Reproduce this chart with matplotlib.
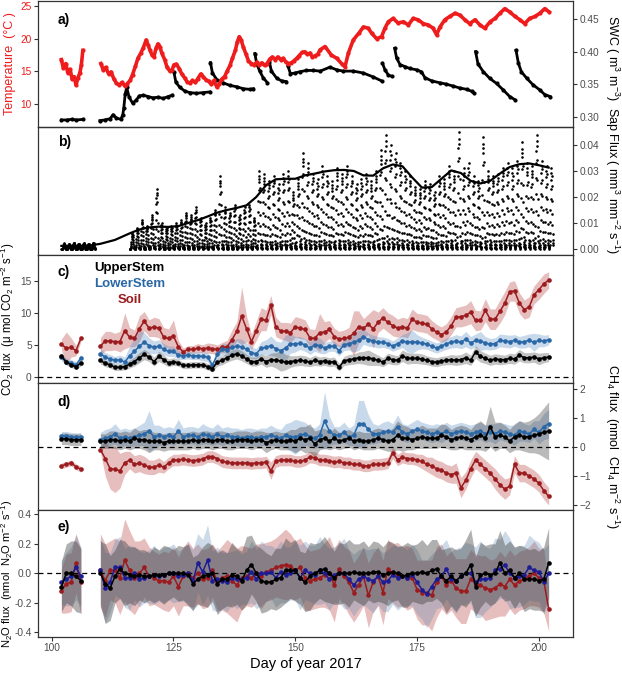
import numpy as np
import matplotlib
matplotlib.use('Agg')
import matplotlib.pyplot as plt

plt.rcParams['font.family'] = ['Liberation Sans', 'DejaVu Sans']
plt.rcParams['mathtext.default'] = 'regular'

## data: panel a (temperature, soil water content)
temp_day_1 = [102.0, 102.4, 102.9, 103.3, 103.8, 104.2, 104.6, 105.0, 105.4, 105.8, 106.1, 106.4]
temp_1 = [16.8, 15.5, 16.2, 14.8, 15.3, 13.8, 14.2, 12.9, 14.0, 14.8, 16.0, 18.2]
temp_day_2 = [110.1, 110.6, 111.1, 111.7, 112.2, 112.8, 113.3, 113.9, 114.4, 115.0,
              115.5, 116.1, 116.6, 117.2, 117.7, 118.3, 118.8, 119.4, 119.8, 120.2,
              120.6, 121.0, 121.4, 121.8, 122.2, 122.6, 123.2, 123.7, 124.3, 124.7,
              125.1, 125.6, 126.2, 126.7, 127.3, 127.8, 128.4, 128.9, 129.5, 130.0,
              130.6, 131.1, 131.7, 132.2, 132.8, 133.3, 133.9, 134.4, 134.9, 135.5,
              136.0, 136.6, 137.1, 137.7, 138.1, 138.5, 138.9, 139.3, 139.9, 140.4,
              141.0, 141.5, 142.1, 142.6, 143.1, 143.7, 144.2, 144.8, 145.3, 145.9,
              146.4, 147.0, 147.5, 148.1, 148.6, 149.2, 149.7, 150.3, 150.8, 151.4,
              151.9, 152.5, 153.0, 153.5, 154.1, 154.6, 155.1, 156.1, 157.4, 158.5,
              159.5, 160.2, 160.9, 161.9, 163.0, 164.0, 165.0, 165.7, 166.7, 167.7,
              168.4, 169.1, 170.1, 171.1, 172.2, 173.2, 174.2, 175.2, 176.3, 177.3,
              178.3, 179.0, 179.7, 180.7, 181.7, 182.8, 183.8, 184.8, 185.8, 186.9,
              187.9, 188.9, 190.0, 191.0, 192.0, 193.0, 194.0, 195.1, 196.1, 197.1,
              198.1, 199.2, 200.2, 201.2, 202.1]
temp_2 = [16.2, 15.2, 15.6, 14.6, 14.9, 13.8, 13.2, 12.9, 13.3, 12.8,
          13.1, 13.6, 14.5, 15.8, 17.0, 17.8, 18.6, 19.8, 19.0, 18.2,
          17.5, 17.2, 18.5, 19.2, 18.8, 17.8, 16.8, 15.6, 15.0, 15.2,
          16.0, 16.1, 15.4, 14.6, 14.0, 13.4, 13.2, 13.6, 13.3, 13.9,
          14.6, 14.2, 13.7, 13.5, 13.0, 13.6, 12.6, 13.0, 13.8, 14.2,
          15.0, 15.9, 17.0, 18.2, 19.5, 20.3, 19.8, 18.8, 17.6, 16.6,
          16.2, 16.0, 16.4, 15.9, 16.3, 15.9, 16.2, 16.9, 17.2, 16.8,
          17.2, 16.8, 17.0, 16.4, 16.2, 16.3, 16.6, 17.0, 17.4, 17.9,
          18.0, 17.6, 17.8, 17.2, 17.4, 17.6, 18.3, 18.8, 17.5, 17.0,
          16.2, 15.7, 17.8, 19.8, 20.8, 21.8, 21.6, 20.8, 20.0, 20.3,
          21.6, 22.6, 23.1, 22.4, 22.6, 22.1, 23.1, 22.9, 22.3, 22.1,
          21.6, 20.6, 21.8, 22.9, 23.4, 23.9, 23.6, 22.9, 22.3, 22.9,
          22.1, 21.6, 22.6, 23.1, 23.9, 24.6, 24.1, 23.4, 22.9, 22.3,
          23.1, 23.4, 23.9, 24.6, 24.1]

swc_day_1 = [102.0, 103.1, 104.1, 105.1, 106.5]
swc_1 = [0.295, 0.295, 0.296, 0.295, 0.296]
nan = np.nan
swc_day_2 = [109.9, 110.9, 112.0, 112.6, 113.3, 114.2, 114.6, 114.8, 115.1, 115.4,
             115.9, 116.6, 117.3, 118.0, 118.8, 119.8, 120.8, 121.9, 122.9, 123.9,
             124.8, 124.9, 125.1, 125.5, 126.3, 127.4, 128.4, 129.7, 131.1, 132.4,
             132.5, 132.6, 133.0, 133.9, 135.2, 136.6, 138.0, 139.3, 140.7, 141.4,
             141.5, 141.7, 142.1, 142.7, 143.4, 144.3, 144.5, 144.7, 145.1, 146.2,
             147.2, 148.1, 148.3, 148.5, 149.0, 149.9, 150.9, 152.3, 153.7, 155.1,
             157.1, 158.5, 159.8, 161.9, 164.0, 166.0, 167.7, 167.8, 167.9, 168.4,
             169.1, 169.8, 170.1, 170.4, 170.8, 171.5, 172.5, 173.5, 174.9, 175.9,
             176.6, 178.0, 179.7, 181.0, 182.4, 183.8, 185.2, 186.2, 186.7, 186.8,
             187.0, 187.5, 188.6, 189.9, 191.3, 192.7, 194.0, 195.1, 195.2, 195.3,
             195.8, 196.4, 197.5, 198.8, 200.2, 201.2, 202.3]
swc_2 = [0.294, 0.295, 0.297, 0.303, 0.298, 0.296, 0.303, 0.313, 0.335, 0.345,
         0.330, 0.321, 0.325, 0.332, 0.333, 0.331, 0.329, 0.330, 0.328, 0.331,
         0.333, nan, 0.368, 0.353, 0.345, 0.339, 0.337, 0.336, 0.337, 0.338,
         nan, 0.383, 0.367, 0.357, 0.352, 0.348, 0.346, 0.343, 0.342, 0.343,
         nan, 0.397, 0.381, 0.370, 0.360, 0.352, nan, 0.384, 0.370, 0.359,
         0.355, 0.354, nan, 0.378, 0.366, 0.367, 0.369, 0.371, 0.371, 0.370,
         0.376, 0.372, 0.370, 0.370, 0.367, 0.361, 0.355, nan, 0.382, 0.372,
         0.364, 0.362, nan, 0.405, 0.390, 0.380, 0.377, 0.374, 0.372, 0.369,
         0.360, 0.355, 0.352, 0.350, 0.347, 0.344, 0.342, 0.339, 0.336, nan,
         0.400, 0.381, 0.369, 0.359, 0.351, 0.341, 0.331, 0.326, nan, 0.402,
         0.382, 0.369, 0.359, 0.349, 0.341, 0.334, 0.331]

## data: panel b (sap flux)
sap_days = [102, 103, 104, 105, 106, 107, 108] + list(range(116, 203))
sap_peak = [0.0022, 0.0020, 0.0025, 0.0021, 0.0023, 0.0020, 0.0024,
            0.006, 0.008, 0.011, 0.009, 0.013, 0.023, 0.010, 0.008, 0.009, 0.010,
            0.011, 0.014, 0.013, 0.016, 0.012, 0.010, 0.012, 0.015, 0.028, 0.016,
            0.014, 0.017, 0.013, 0.016, 0.017, 0.012, 0.030, 0.029, 0.026, 0.028,
            0.025, 0.029, 0.030, 0.022, 0.027, 0.037, 0.033, 0.029, 0.027, 0.032,
            0.028, 0.026, 0.031, 0.029, 0.032, 0.028, 0.025, 0.027, 0.029, 0.026,
            0.030, 0.038, 0.044, 0.040, 0.037, 0.033, 0.030, 0.028, 0.024, 0.023,
            0.026, 0.025, 0.022, 0.028, 0.027, 0.032, 0.030, 0.045, 0.031, 0.033,
            0.028, 0.026, 0.043, 0.030, 0.028, 0.029, 0.031, 0.033, 0.031, 0.034,
            0.041, 0.033, 0.032, 0.044, 0.034, 0.032, 0.031]
# fraction of the daily peak for each hour of the day
diurnal_shape = [0.03, 0.02, 0.01, 0.0, 0.02, 0.05, 0.1, 0.2, 0.33, 0.48, 0.62, 0.75,
                 0.86, 0.94, 1.0, 0.9, 0.78, 0.6, 0.44, 0.3, 0.19, 0.11, 0.07, 0.05]
sap_smooth_day = [102, 105, 108, 110, 113, 116, 118, 120, 122, 124, 126, 128, 130, 132,
                  134, 136, 138, 140, 142, 144, 146, 148, 150, 152, 154, 156, 158, 160,
                  162, 164, 166, 168, 170, 172, 174, 176, 178, 180, 182, 184, 186, 188,
                  190, 192, 194, 196, 198, 200, 202]
sap_smooth = [0.0012, 0.0012, 0.0014, 0.0020, 0.0035, 0.0060, 0.0075, 0.0083, 0.0086,
              0.0085, 0.0088, 0.0100, 0.0111, 0.0125, 0.0140, 0.0150, 0.0158, 0.0168,
              0.0200, 0.0245, 0.0268, 0.0270, 0.0270, 0.0283, 0.0290, 0.0298, 0.0303,
              0.0304, 0.0300, 0.0283, 0.0282, 0.0310, 0.0325, 0.0318, 0.0275, 0.0236,
              0.0238, 0.0270, 0.0302, 0.0292, 0.0262, 0.0252, 0.0262, 0.0290, 0.0315,
              0.0326, 0.0329, 0.0322, 0.0313]

## data: panels c-e (daily fluxes, mean and half-width of the band)
flux_days = list(range(102, 107)) + list(range(110, 203))

co2_upper = [3.3, 2.3, 1.9, 1.6, 2.2,
             2.6, 2.1, 1.9, 1.5, 1.5, 1.6, 2.0, 2.4, 3.0, 3.5,
             3.1, 2.4, 3.2, 2.7, 2.2, 2.4, 2.2, 1.8, 1.8, 1.9,
             1.9, 1.9, 1.6, 1.3, 2.3, 2.6, 3.0, 3.4, 3.6, 3.3,
             2.8, 2.4, 2.4, 2.8, 2.4, 2.7, 2.6, 2.5, 2.3, 2.4,
             2.5, 2.6, 2.5, 2.3, 2.6, 2.4, 2.5, 2.3, 2.4, 1.5,
             2.5, 2.7, 2.8, 3.0, 3.0, 3.0, 2.8, 2.6, 2.3, 2.9,
             2.7, 2.6, 3.3, 2.9, 2.9, 2.9, 2.8, 2.6, 2.4, 2.3,
             2.5, 2.6, 2.7, 2.6, 2.7, 3.0, 2.6, 3.9, 3.2, 2.9,
             2.6, 2.8, 2.7, 2.7, 2.9, 2.8, 3.4, 3.0, 3.0, 3.1,
             2.8, 3.0, 3.1]
co2_upper_se = [0.5, 0.4, 0.4, 0.4, 0.5,
                0.6, 0.5, 0.5, 0.5, 0.5, 0.5, 0.6, 0.7, 0.8, 0.8,
                0.7, 0.7, 0.8, 0.7, 0.6, 0.6, 0.5, 0.5, 0.5, 0.5,
                0.5, 0.5, 0.5, 0.5, 0.6, 0.7, 0.7, 0.8, 0.8, 0.8,
                0.7, 0.7, 0.7, 0.8, 0.9, 1.0, 1.2, 1.6, 1.2, 0.9,
                0.8, 0.8, 0.8, 0.7, 0.8, 0.7, 0.7, 0.7, 0.7, 0.6,
                0.7, 0.8, 0.8, 0.9, 1.0, 1.2, 1.0, 0.8, 0.7, 0.8,
                0.8, 0.7, 0.9, 0.9, 0.8, 0.8, 0.8, 0.7, 0.7, 0.7,
                0.7, 0.7, 0.8, 0.8, 0.8, 0.9, 0.8, 1.0, 0.9, 0.8,
                0.8, 0.8, 0.8, 0.7, 0.8, 0.8, 0.9, 0.8, 0.8, 0.8,
                0.9, 0.8, 0.7]
co2_lower = [3.1, 2.4, 2.2, 1.9, 2.9,
             3.6, 3.1, 2.8, 2.6, 2.7, 2.3, 3.3, 4.0, 4.8, 5.4,
             4.9, 4.6, 4.8, 4.3, 4.0, 4.0, 3.4, 3.3, 3.4, 3.3,
             3.3, 3.2, 3.1, 1.8, 3.5, 4.3, 4.2, 4.6, 4.8, 4.7,
             4.3, 3.8, 3.6, 4.5, 4.6, 4.9, 4.4, 4.1, 4.5, 5.2,
             5.1, 5.3, 5.0, 4.5, 5.0, 4.9, 4.5, 4.8, 4.8, 4.1,
             5.0, 5.2, 5.4, 5.7, 6.3, 5.8, 5.6, 5.4, 5.4, 5.2,
             4.8, 5.2, 5.6, 5.4, 5.5, 5.4, 5.3, 5.1, 4.8, 4.5,
             4.8, 5.2, 5.4, 5.6, 5.4, 5.9, 5.3, 5.7, 5.6, 5.3,
             5.1, 5.2, 5.7, 5.6, 5.5, 5.7, 5.4, 5.5, 5.7, 5.4,
             5.7, 5.6, 5.8]
co2_lower_se = [0.6, 0.5, 0.5, 0.5, 0.6,
                0.8, 0.7, 0.7, 0.6, 0.7, 0.8, 1.5, 2.0, 2.5, 1.5,
                1.2, 1.0, 1.0, 0.9, 0.8, 0.8, 0.7, 0.6, 0.6, 0.6,
                0.6, 0.7, 0.7, 0.6, 0.7, 0.9, 1.0, 1.0, 1.2, 1.2,
                1.0, 0.9, 0.8, 1.0, 1.2, 1.5, 1.2, 1.3, 2.0, 1.5,
                1.2, 1.0, 1.0, 1.0, 1.0, 1.2, 0.9, 0.8, 0.8, 0.8,
                0.9, 1.0, 1.5, 1.6, 1.2, 1.0, 0.9, 0.9, 0.8, 0.8,
                0.8, 0.9, 1.0, 1.5, 1.8, 1.2, 0.9, 0.8, 0.8, 0.8,
                0.8, 0.9, 0.9, 1.0, 1.0, 1.2, 1.0, 1.0, 1.5, 1.0,
                0.9, 0.9, 1.0, 1.0, 1.0, 0.9, 0.9, 1.0, 1.0, 1.4,
                1.0, 0.9, 0.8]
co2_soil = [5.1, 4.5, 4.6, 4.1, 6.0,
            4.8, 5.6, 5.6, 5.5, 5.5, 7.2, 6.2, 6.0, 7.5, 8.7,
            7.6, 7.8, 7.6, 6.2, 6.0, 6.4, 4.7, 3.9, 4.3, 4.3,
            4.5, 4.4, 4.5, 4.4, 4.3, 4.6, 4.7, 5.8, 7.1, 9.5,
            7.5, 5.5, 7.2, 9.0, 8.8, 11.2, 7.8, 7.2, 7.1, 6.9,
            7.8, 7.6, 7.4, 6.1, 6.0, 6.9, 7.0, 7.4, 6.3, 5.9,
            6.0, 6.2, 6.8, 7.8, 7.6, 8.2, 7.5, 8.5, 9.2, 8.5,
            8.0, 7.6, 7.8, 7.6, 9.0, 8.5, 8.4, 8.2, 7.5, 7.0,
            6.6, 7.0, 8.0, 9.3, 9.4, 9.6, 10.1, 8.8, 8.8, 10.4,
            9.0, 9.0, 10.2, 11.5, 13.3, 13.4, 11.5, 10.5, 10.9, 12.8,
            13.6, 14.5, 15.1]
co2_soil_se = [0.8, 2.5, 1.5, 0.8, 0.5,
               1.3, 1.5, 1.5, 1.3, 1.6, 2.8, 1.5, 1.3, 2.0, 1.5,
               1.3, 1.5, 1.5, 1.5, 1.5, 2.5, 1.0, 0.6, 0.6, 0.6,
               0.7, 0.6, 0.8, 0.8, 0.7, 0.8, 1.0, 1.5, 1.5, 4.5,
               2.0, 1.2, 1.5, 1.8, 1.6, 1.5, 1.5, 1.3, 1.4, 1.5,
               1.6, 1.6, 1.5, 1.4, 1.4, 3.0, 1.6, 1.4, 1.3, 1.2,
               1.3, 1.5, 3.5, 2.5, 1.5, 1.6, 3.0, 1.6, 1.6, 1.5,
               1.6, 1.4, 1.5, 1.5, 1.6, 1.4, 1.4, 1.4, 1.3, 1.2,
               1.2, 1.3, 1.4, 1.5, 1.6, 1.6, 1.8, 1.6, 1.5, 1.8,
               1.6, 1.6, 1.8, 1.8, 1.5, 1.6, 1.6, 1.5, 1.6, 1.4,
               1.5, 1.5, 1.3]

ch4_upper = [0.28, 0.28, 0.25, 0.25, 0.25,
             0.2, 0.2, 0.25, 0.25, 0.2, 0.25, 0.2, 0.3, 0.25, 0.25,
             0.2, 0.2, 0.2, 0.15, 0.2, 0.2, 0.2, 0.2, 0.2, 0.25,
             0.2, 0.25, 0.25, 0.2, 0.25, 0.25, 0.2, 0.2, 0.25, 0.25,
             0.25, 0.2, 0.25, 0.25, 0.15, 0.2, 0.25, 0.2, 0.2, 0.25,
             0.2, 0.3, 0.25, 0.3, 0.1, 0.25, 0.3, 0.2, 0.3, 0.2,
             0.25, 0.3, 0.2, 0.25, 0.2, 0.2, 0.25, 0.3, 0.25, 0.2,
             0.25, 0.4, 0.3, 0.3, 0.25, 0.3, 0.35, 0.3, 0.3, 0.3,
             0.4, 0.35, 0.25, 0.3, 0.35, 0.3, 0.25, 0.35, 0.4, 0.3,
             0.7, 0.35, 0.4, 0.35, 0.2, 0.35, 0.4, 0.35, 0.35, 0.4,
             0.45, 0.5, 0.55]
ch4_upper_se = [0.2, 0.2, 0.2, 0.2, 0.2,
                0.25, 0.25, 0.3, 0.3, 0.3, 0.3, 0.3, 0.35, 0.3, 0.35,
                0.4, 0.3, 0.3, 0.3, 0.3, 0.3, 0.3, 0.3, 0.3, 0.3,
                0.3, 0.3, 0.3, 0.3, 0.3, 0.3, 0.3, 0.3, 0.3, 0.3,
                0.3, 0.3, 0.3, 0.3, 0.35, 0.3, 0.3, 0.3, 0.3, 0.35,
                0.4, 0.4, 0.45, 0.5, 0.45, 0.35, 0.35, 0.3, 0.35, 0.3,
                0.3, 0.3, 0.3, 0.3, 0.3, 0.3, 0.35, 0.35, 0.35, 0.35,
                0.4, 0.5, 0.45, 0.4, 0.35, 0.35, 0.4, 0.35, 0.35, 0.35,
                0.4, 0.4, 0.35, 0.4, 0.4, 0.4, 0.35, 0.45, 0.5, 0.45,
                0.7, 0.5, 0.45, 0.4, 0.4, 0.45, 0.5, 0.5, 0.55, 0.6,
                0.7, 0.85, 1.0]
ch4_lower = [0.38, 0.38, 0.35, 0.33, 0.35,
             0.25, 0.3, 0.35, 0.45, 0.3, 0.35, 0.3, 0.35, 0.4, 0.45,
             0.55, 0.35, 0.4, 0.35, 0.4, 0.35, 0.55, 0.35, 0.4, 0.4,
             0.35, 0.45, 0.4, 0.35, 0.45, 0.35, 0.4, 0.35, 0.35, 0.3,
             0.35, 0.35, 0.3, 0.35, 0.35, 0.4, 0.35, 0.3, 0.4, 0.35,
             0.35, 0.4, 0.45, 0.35, 0.3, 0.4, 0.9, 0.55, 0.4, 0.4,
             0.5, 0.35, 0.4, 0.8, 0.8, 0.6, 0.45, 0.45, 0.5, 0.55,
             0.5, 0.7, 0.5, 0.45, 0.55, 0.6, 0.55, 0.5, 0.45, 0.5,
             0.45, 0.55, 0.45, 0.5, 0.55, 0.5, 0.45, 0.5, 0.55, 0.45,
             0.5, 0.45, 0.55, 0.5, 0.45, 0.4, 0.55, 0.5, 0.45, 0.6,
             0.5, 0.7, 0.8]
ch4_lower_se = [0.15, 0.15, 0.15, 0.15, 0.15,
                0.25, 0.3, 0.3, 0.35, 0.3, 0.3, 0.3, 0.3, 0.35, 0.4,
                0.7, 0.4, 0.35, 0.3, 0.3, 0.3, 0.4, 0.3, 0.3, 0.3,
                0.3, 0.35, 0.3, 0.3, 0.35, 0.3, 0.3, 0.3, 0.3, 0.3,
                0.3, 0.3, 0.3, 0.3, 0.3, 0.35, 0.3, 0.3, 0.4, 0.5,
                0.6, 0.5, 0.4, 0.35, 0.35, 0.4, 1.0, 0.5, 0.3, 0.3,
                0.35, 0.3, 0.35, 0.8, 0.8, 0.5, 0.35, 0.3, 0.35, 0.35,
                0.3, 0.4, 0.3, 0.3, 0.3, 0.35, 0.3, 0.3, 0.3, 0.3,
                0.3, 0.3, 0.3, 0.3, 0.3, 0.3, 0.3, 0.3, 0.3, 0.3,
                0.3, 0.35, 0.3, 0.3, 0.3, 0.35, 0.35, 0.3, 0.3, 0.3,
                0.4, 0.45, 0.5]
ch4_soil = [-0.65, -0.6, -0.55, -0.68, -0.77,
            -0.09, -0.4, -0.75, -0.77, -0.82, -0.55, -0.45, -0.6, -0.55, -0.62,
            -0.7, -0.7, -0.62, -0.7, -0.55, -0.45, -0.45, -0.42, -0.45, -0.47,
            -0.45, -0.42, -0.33, -0.33, -0.4, -0.5, -0.53, -0.55, -0.55, -0.55,
            -0.55, -0.57, -0.55, -0.55, -0.52, -0.82, -0.5, -0.45, -0.45, -0.45,
            -0.5, -0.5, -0.45, -0.35, -0.37, -0.45, -0.45, -0.48, -0.52, -0.5,
            -0.55, -0.55, -0.6, -0.6, -0.65, -0.65, -0.6, -0.6, -0.58, -0.55,
            -0.2, -0.45, -0.35, -0.4, -0.4, -0.45, -0.5, -0.6, -0.65, -0.75,
            -0.8, -0.9, -0.95, -0.9, -1.4, -1.15, -0.75, -0.45, -0.6, -0.75,
            -0.9, -1.1, -1.3, -1.45, -1.35, -0.6, -0.9, -0.9, -1.0, -1.1,
            -1.25, -1.5, -1.7]
ch4_soil_se = [0.1, 0.1, 0.1, 0.1, 0.1,
               0.1, 0.6, 0.7, 0.8, 0.6, 0.4, 0.3, 0.3, 0.3, 0.3,
               0.25, 0.25, 0.25, 0.2, 0.2, 0.2, 0.2, 0.2, 0.2, 0.2,
               0.2, 0.2, 0.2, 0.2, 0.2, 0.2, 0.2, 0.2, 0.2, 0.2,
               0.2, 0.2, 0.2, 0.2, 0.2, 0.3, 0.2, 0.2, 0.2, 0.2,
               0.2, 0.2, 0.2, 0.2, 0.2, 0.2, 0.2, 0.2, 0.2, 0.2,
               0.2, 0.2, 0.2, 0.2, 0.2, 0.2, 0.2, 0.2, 0.2, 0.2,
               0.2, 0.2, 0.2, 0.2, 0.2, 0.2, 0.25, 0.25, 0.3, 0.3,
               0.3, 0.3, 0.3, 0.35, 0.35, 0.3, 0.3, 0.3, 0.3, 0.3,
               0.3, 0.35, 0.35, 0.35, 0.3, 0.3, 0.3, 0.3, 0.3, 0.3,
               0.3, 0.3, 0.3]

n2o_upper = [-0.09, 0.0, 0.0, -0.02, -0.05,
             0.0, -0.07, -0.1, -0.02, 0.03, 0.0, -0.01, -0.02, -0.01, -0.02,
             -0.02, -0.01, -0.01, -0.01, 0.0, 0.0, 0.0, 0.0, -0.01, -0.07,
             -0.04, -0.02, -0.01, 0.0, -0.07, -0.04, -0.04, -0.01, -0.02, -0.05,
             0.02, 0.06, 0.0, -0.05, -0.06, -0.06, -0.04, -0.03, 0.02, 0.02,
             0.02, -0.03, -0.06, -0.02, 0.0, 0.02, 0.03, 0.0, -0.03, 0.0,
             0.0, 0.0, 0.01, 0.0, 0.0, 0.0, 0.01, 0.01, -0.01, 0.0,
             0.01, 0.0, -0.02, -0.01, 0.0, 0.0, 0.01, 0.0, 0.02, 0.03,
             -0.02, -0.05, -0.02, -0.05, -0.02, 0.0, 0.06, -0.09, -0.01, 0.0,
             -0.01, 0.0, 0.07, 0.0, 0.02, -0.03, 0.0, -0.04, -0.04, -0.04,
             -0.05, -0.04, 0.07]
n2o_upper_se = [0.17, 0.2, 0.22, 0.24, 0.22,
                0.22, 0.27, 0.22, 0.18, 0.2, 0.22, 0.19, 0.2, 0.17, 0.18,
                0.16, 0.19, 0.17, 0.2, 0.18, 0.16, 0.19, 0.18, 0.21, 0.18,
                0.17, 0.2, 0.22, 0.19, 0.21, 0.2, 0.18, 0.22, 0.19, 0.2,
                0.23, 0.2, 0.19, 0.22, 0.2, 0.18, 0.21, 0.2, 0.22, 0.19,
                0.21, 0.18, 0.2, 0.23, 0.2, 0.19, 0.22, 0.2, 0.18, 0.21,
                0.2, 0.23, 0.19, 0.2, 0.22, 0.18, 0.21, 0.2, 0.19, 0.22,
                0.2, 0.18, 0.21, 0.22, 0.19, 0.2, 0.22, 0.19, 0.21, 0.2,
                0.18, 0.22, 0.2, 0.21, 0.19, 0.23, 0.24, 0.2, 0.22, 0.19,
                0.21, 0.2, 0.22, 0.19, 0.2, 0.21, 0.19, 0.22, 0.2, 0.21,
                0.2, 0.22, 0.24]
n2o_lower = [-0.06, -0.04, -0.02, 0.04, -0.02,
             0.02, -0.1, -0.06, 0.04, 0.04, -0.03, -0.03, 0.0, -0.04, -0.03,
             -0.02, -0.01, -0.02, -0.01, 0.0, 0.0, -0.02, -0.01, 0.0, -0.05,
             0.07, 0.01, 0.09, -0.05, -0.04, -0.05, -0.06, -0.03, -0.04, -0.04,
             -0.03, 0.01, -0.04, 0.0, 0.0, 0.01, -0.03, 0.01, -0.01, 0.0,
             0.02, -0.03, 0.02, 0.0, -0.01, 0.02, 0.0, -0.04, -0.01, 0.0,
             0.0, -0.04, -0.08, -0.04, -0.02, -0.04, -0.05, -0.02, -0.06, -0.05,
             -0.01, -0.03, -0.02, -0.03, -0.01, -0.06, -0.11, -0.14, -0.09, -0.04,
             -0.02, 0.03, -0.04, -0.05, -0.02, 0.0, 0.0, -0.06, -0.04, -0.04,
             -0.03, 0.02, 0.03, 0.06, 0.0, -0.03, -0.02, -0.01, 0.04, 0.02,
             0.01, -0.06, 0.0]
n2o_lower_se = [0.15, 0.18, 0.2, 0.22, 0.2,
                0.22, 0.24, 0.2, 0.19, 0.21, 0.2, 0.22, 0.18, 0.19, 0.17,
                0.18, 0.2, 0.17, 0.19, 0.18, 0.2, 0.17, 0.18, 0.2, 0.21,
                0.2, 0.22, 0.24, 0.2, 0.22, 0.19, 0.2, 0.18, 0.2, 0.17,
                0.18, 0.21, 0.2, 0.22, 0.19, 0.18, 0.2, 0.21, 0.19, 0.18,
                0.2, 0.22, 0.2, 0.19, 0.2, 0.23, 0.2, 0.21, 0.19, 0.2,
                0.24, 0.2, 0.21, 0.2, 0.19, 0.2, 0.22, 0.19, 0.2, 0.21,
                0.2, 0.22, 0.2, 0.19, 0.21, 0.22, 0.2, 0.23, 0.22, 0.2,
                0.21, 0.2, 0.19, 0.22, 0.2, 0.21, 0.2, 0.24, 0.26, 0.22,
                0.2, 0.22, 0.2, 0.23, 0.24, 0.2, 0.21, 0.2, 0.22, 0.21,
                0.2, 0.22, 0.2]
n2o_soil = [-0.12, -0.07, -0.06, 0.07, -0.06,
            0.02, -0.05, 0.02, 0.02, -0.03, 0.09, 0.02, -0.03, 0.0, 0.04,
            -0.02, -0.03, -0.05, -0.05, -0.06, -0.02, -0.09, -0.02, 0.0, -0.03,
            0.0, -0.04, -0.03, 0.02, -0.05, -0.03, -0.02, -0.05, -0.08, -0.03,
            -0.02, -0.03, 0.0, -0.02, 0.01, 0.02, 0.04, 0.05, 0.06, 0.05,
            0.02, 0.04, -0.03, -0.05, -0.04, -0.03, -0.01, 0.0, -0.08, 0.03,
            -0.02, -0.06, -0.13, -0.08, -0.02, -0.15, -0.06, -0.02, -0.13, 0.03,
            0.0, -0.01, -0.02, -0.03, -0.03, -0.11, -0.13, -0.13, -0.15, -0.06,
            -0.02, -0.08, -0.05, -0.1, -0.12, -0.12, -0.04, -0.07, -0.08, -0.1,
            -0.11, -0.1, -0.07, -0.09, -0.04, -0.08, -0.05, -0.04, -0.02, 0.0,
            -0.03, -0.05, -0.24]
n2o_soil_se = [0.15, 0.2, 0.2, 0.2, 0.22,
               0.25, 0.25, 0.2, 0.22, 0.25, 0.28, 0.27, 0.25, 0.22, 0.2,
               0.2, 0.18, 0.18, 0.2, 0.2, 0.2, 0.2, 0.2, 0.22, 0.2,
               0.2, 0.2, 0.2, 0.18, 0.2, 0.22, 0.25, 0.25, 0.25, 0.22,
               0.2, 0.2, 0.2, 0.22, 0.2, 0.2, 0.2, 0.22, 0.24, 0.22,
               0.2, 0.2, 0.22, 0.2, 0.2, 0.2, 0.22, 0.25, 0.25, 0.2,
               0.2, 0.22, 0.2, 0.2, 0.2, 0.22, 0.2, 0.2, 0.22, 0.2,
               0.2, 0.22, 0.2, 0.22, 0.2, 0.2, 0.22, 0.22, 0.24, 0.24,
               0.22, 0.2, 0.2, 0.2, 0.22, 0.22, 0.2, 0.2, 0.2, 0.22,
               0.2, 0.2, 0.22, 0.2, 0.2, 0.2, 0.2, 0.2, 0.2, 0.22,
               0.2, 0.22, 0.15]

## styling
TEMP_COL = '#ee1c1c'
SOIL_COL, SOIL_FILL = '#9b1b1e', '#b22a2a'
LOW_COL, LOW_FILL = '#2a67a6', '#4a84be'
N2O_LOW_COL = '#1c1c96'
UP_COL, UP_FILL = 'black', '#3a3a3a'
TICK_COL = '#4d4d4d'
XLIM = (97.2, 207.0)

fig = plt.figure(figsize=(6.22, 6.73), dpi=100)
left, width = 38 / 622, 535 / 622
edges = [1, 127, 255, 383, 510, 637]
axs = []
for i in range(5):
    bottom = 1 - edges[i + 1] / 673
    height = (edges[i + 1] - edges[i]) / 673
    ax = fig.add_axes([left, bottom, width, height])
    ax.set_xlim(*XLIM)
    for s in ax.spines.values():
        s.set_color('#333333')
        s.set_linewidth(0.9)
    ax.tick_params(axis='both', direction='out', length=3, width=0.8, color='#333333',
                   labelcolor=TICK_COL, labelsize=7.3, pad=1.5)
    ax.tick_params(axis='x', bottom=False, labelbottom=False)
    axs.append(ax)
ax_a, ax_b, ax_c, ax_d, ax_e = axs


def split(days, vals):
    days = np.array(days, dtype=float)
    vals = np.array(vals, dtype=float)
    return (days[:5], vals[:5]), (days[5:], vals[5:])


def bands(ax, series):
    for mean, se, fill, alpha in series:
        for (d, m), (_, s) in zip(split(flux_days, mean), split(flux_days, se)):
            ax.fill_between(d, m - s, m + s, color=fill, alpha=alpha, lw=0, zorder=1)


def lines(ax, series):
    for mean, col in series:
        for d, m in split(flux_days, mean):
            ax.plot(d, m, color=col, lw=1.1, marker='o', ms=2.3, zorder=4)


def zero_line(ax):
    ax.axhline(0, color='black', lw=0.9, dashes=(4, 3), zorder=3)


## panel a
ax_a2 = ax_a.twinx()
ax_a2.set_xlim(*XLIM)
ax_a2.plot(swc_day_1, swc_1, color='black', lw=2.0, marker='o', ms=2)
ax_a2.plot(swc_day_2, swc_2, color='black', lw=2.0, marker='o', ms=2)
ax_a.plot(temp_day_1, temp_1, color=TEMP_COL, lw=2.6, marker='o', ms=2)
ax_a.plot(temp_day_2, temp_2, color=TEMP_COL, lw=2.6, marker='o', ms=2)
ax_a.set_zorder(ax_a2.get_zorder() + 1)
ax_a.patch.set_visible(False)
ax_a.set_ylim(6.48, 25.77)
ax_a.set_yticks([10, 15, 20, 25])
ax_a.tick_params(axis='y', labelcolor=TEMP_COL)
ax_a2.set_ylim(0.2842, 0.4776)
ax_a2.set_yticks([0.30, 0.35, 0.40, 0.45])
ax_a2.set_yticklabels(['0.30', '0.35', '0.40', '0.45'])
ax_a2.tick_params(axis='y', direction='out', length=3, width=0.8, color='#333333',
                  labelcolor=TICK_COL, labelsize=7.3, pad=1.5)
ax_a2.tick_params(axis='x', bottom=False, labelbottom=False)
for s in ax_a2.spines.values():
    s.set_visible(False)

## panel b
sap_x, sap_y = [], []
for d, p in zip(sap_days, sap_peak):
    for k, f in enumerate(diurnal_shape):
        sap_x.append(d + k / len(diurnal_shape))
        sap_y.append(p * f)
ax_b.scatter(sap_x, sap_y, s=3.5, color='black', lw=0)
ax_b.plot(sap_smooth_day, sap_smooth, color='black', lw=1.6)
ax_b.set_ylim(-0.0023, 0.0469)
ax_b.set_yticks([0.0, 0.01, 0.02, 0.03, 0.04])
ax_b.set_yticklabels(['0.00', '0.01', '0.02', '0.03', '0.04'])
ax_b.tick_params(axis='y', left=False, labelleft=False, right=True, labelright=True)

## panel c
bands(ax_c, [(co2_soil, co2_soil_se, SOIL_FILL, 0.3),
             (co2_lower, co2_lower_se, LOW_FILL, 0.3),
             (co2_upper, co2_upper_se, UP_FILL, 0.3)])
zero_line(ax_c)
lines(ax_c, [(co2_soil, SOIL_COL), (co2_lower, LOW_COL), (co2_upper, UP_COL)])
ax_c.set_ylim(-0.94, 19.0)
ax_c.set_yticks([0, 5, 10, 15])
ax_c.text(116, 17.0, 'UpperStem', color='black', fontsize=9.5, fontweight='bold', ha='center', va='center')
ax_c.text(116, 14.5, 'LowerStem', color=LOW_COL, fontsize=9.5, fontweight='bold', ha='center', va='center')
ax_c.text(116, 12.0, 'Soil', color=SOIL_COL, fontsize=9.5, fontweight='bold', ha='center', va='center')

## panel d
bands(ax_d, [(ch4_soil, ch4_soil_se, SOIL_FILL, 0.3),
             (ch4_lower, ch4_lower_se, LOW_FILL, 0.3),
             (ch4_upper, ch4_upper_se, UP_FILL, 0.35)])
zero_line(ax_d)
lines(ax_d, [(ch4_soil, SOIL_COL), (ch4_lower, LOW_COL), (ch4_upper, UP_COL)])
ax_d.set_ylim(-2.17, 2.2)
ax_d.set_yticks([-2, -1, 0, 1, 2])
ax_d.tick_params(axis='y', left=False, labelleft=False, right=True, labelright=True)

## panel e
bands(ax_e, [(n2o_soil, n2o_soil_se, SOIL_FILL, 0.3),
             (n2o_lower, n2o_lower_se, '#5b86b3', 0.3),
             (n2o_upper, n2o_upper_se, UP_FILL, 0.4)])
zero_line(ax_e)
lines(ax_e, [(n2o_soil, SOIL_COL), (n2o_lower, N2O_LOW_COL), (n2o_upper, UP_COL)])
ax_e.set_ylim(-0.432, 0.43)
ax_e.set_yticks([-0.4, -0.2, 0.0, 0.2, 0.4])
ax_e.set_yticklabels(['-0.4', '-0.2', '0.0', '0.2', '0.4'])
ax_e.tick_params(axis='x', bottom=True, labelbottom=True)
ax_e.set_xticks([100, 125, 150, 175, 200])
ax_e.set_xlabel('Day of year 2017', fontsize=10.5, labelpad=3, color='black')

## panel tags
for ax, tag, yf in zip(axs, ['a)', 'b)', 'c)', 'd)', 'e)'], [0.85, 0.88, 0.87, 0.85, 0.87]):
    ax.text(0.037, yf, tag, transform=ax.transAxes, fontsize=10, fontweight='bold',
            ha='left', va='center', zorder=6)

## axis titles
def ymid(i):
    return 1 - (edges[i] + edges[i + 1]) / 2 / 673

fig.text(10 / 622, ymid(0), 'Temperature  (°C )', rotation=90, color=TEMP_COL,
         fontsize=9, ha='center', va='center')
fig.text(612 / 622, 1 - 58 / 673, 'SWC ( m$^3$ m$^{-3}$)', rotation=270,
         fontsize=9, ha='center', va='center')
fig.text(612 / 622, 1 - 180 / 673, 'Sap Flux ( mm$^3$ mm$^{-2}$ s$^{-1}$)', rotation=270,
         fontsize=9, ha='center', va='center')
fig.text(8 / 622, ymid(2), 'CO$_2$ flux  ($\\mu$ mol CO$_2$ m$^{-2}$ s$^{-1}$)', rotation=90,
         fontsize=8.3, ha='center', va='center')
fig.text(612 / 622, ymid(3), 'CH$_4$ flux  (nmol  CH$_4$ m$^{-2}$ s$^{-1}$)', rotation=270,
         fontsize=9, ha='center', va='center')
fig.text(7.5 / 622, ymid(4), 'N$_2$O flux  (nmol  N$_2$O m$^{-2}$ s$^{-1}$)', rotation=90,
         fontsize=8, ha='center', va='center')

fig.savefig('out.png', dpi=100)
